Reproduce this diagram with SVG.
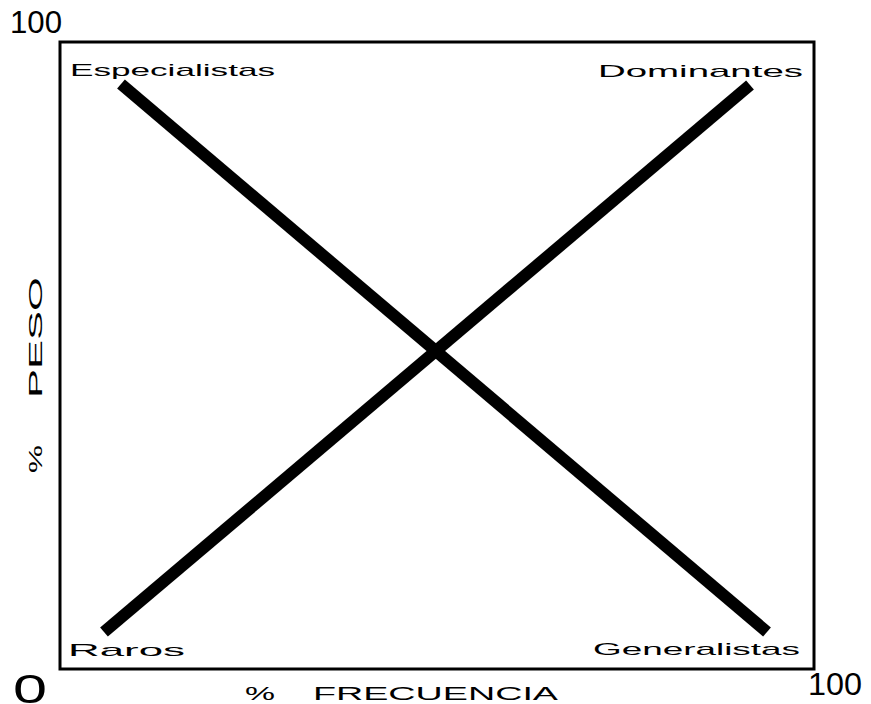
<svg xmlns="http://www.w3.org/2000/svg" width="871" height="704" viewBox="0 0 871 704">
<style>
text{font-family:"Liberation Sans",Arial,sans-serif;fill:#000}
.lbl{font-size:17px}
.num{font-size:31px}
.ax{font-size:18px}
.ln{stroke:#000;stroke-width:12;fill:none}
</style>
<rect x="0" y="0" width="871" height="704" fill="#fff"/>
<rect id="frame" x="60" y="42" width="754" height="627" fill="none" stroke="#000" stroke-width="3"/>
<g id="connectors">
<line class="ln" x1="121" y1="84" x2="767" y2="632"/>
<line class="ln" x1="750" y1="85" x2="104" y2="632"/>
</g>
<g id="especialistas"><text class="lbl" x="70" y="76" textLength="205" lengthAdjust="spacingAndGlyphs">Especialistas</text></g>
<g id="dominantes"><text class="lbl" x="598" y="77" textLength="205" lengthAdjust="spacingAndGlyphs">Dominantes</text></g>
<g id="raros"><text class="lbl" x="68" y="656" textLength="117" lengthAdjust="spacingAndGlyphs">Raros</text></g>
<g id="generalistas"><text class="lbl" x="593" y="655" textLength="207" lengthAdjust="spacingAndGlyphs">Generalistas</text></g>
<g id="ticks">
<text class="num" x="10" y="33" textLength="52" lengthAdjust="spacingAndGlyphs">100</text>
<text x="13" y="703" font-size="40" textLength="34" lengthAdjust="spacingAndGlyphs">0</text>
<text class="num" x="808" y="695" textLength="54" lengthAdjust="spacingAndGlyphs">100</text>
</g>
<g id="xaxis">
<text class="ax" x="245" y="700" textLength="30" lengthAdjust="spacingAndGlyphs">%</text>
<text class="ax" x="313" y="700" textLength="245" lengthAdjust="spacingAndGlyphs">FRECUENCIA</text>
</g>
<g id="yaxis">
<text class="ax" transform="translate(42,473) rotate(-90)" x="0" y="0" textLength="28" lengthAdjust="spacingAndGlyphs">%</text>
<text class="ax" transform="translate(42,398) rotate(-90)" x="0" y="0" textLength="121" lengthAdjust="spacingAndGlyphs">PESO</text>
</g>
</svg>
